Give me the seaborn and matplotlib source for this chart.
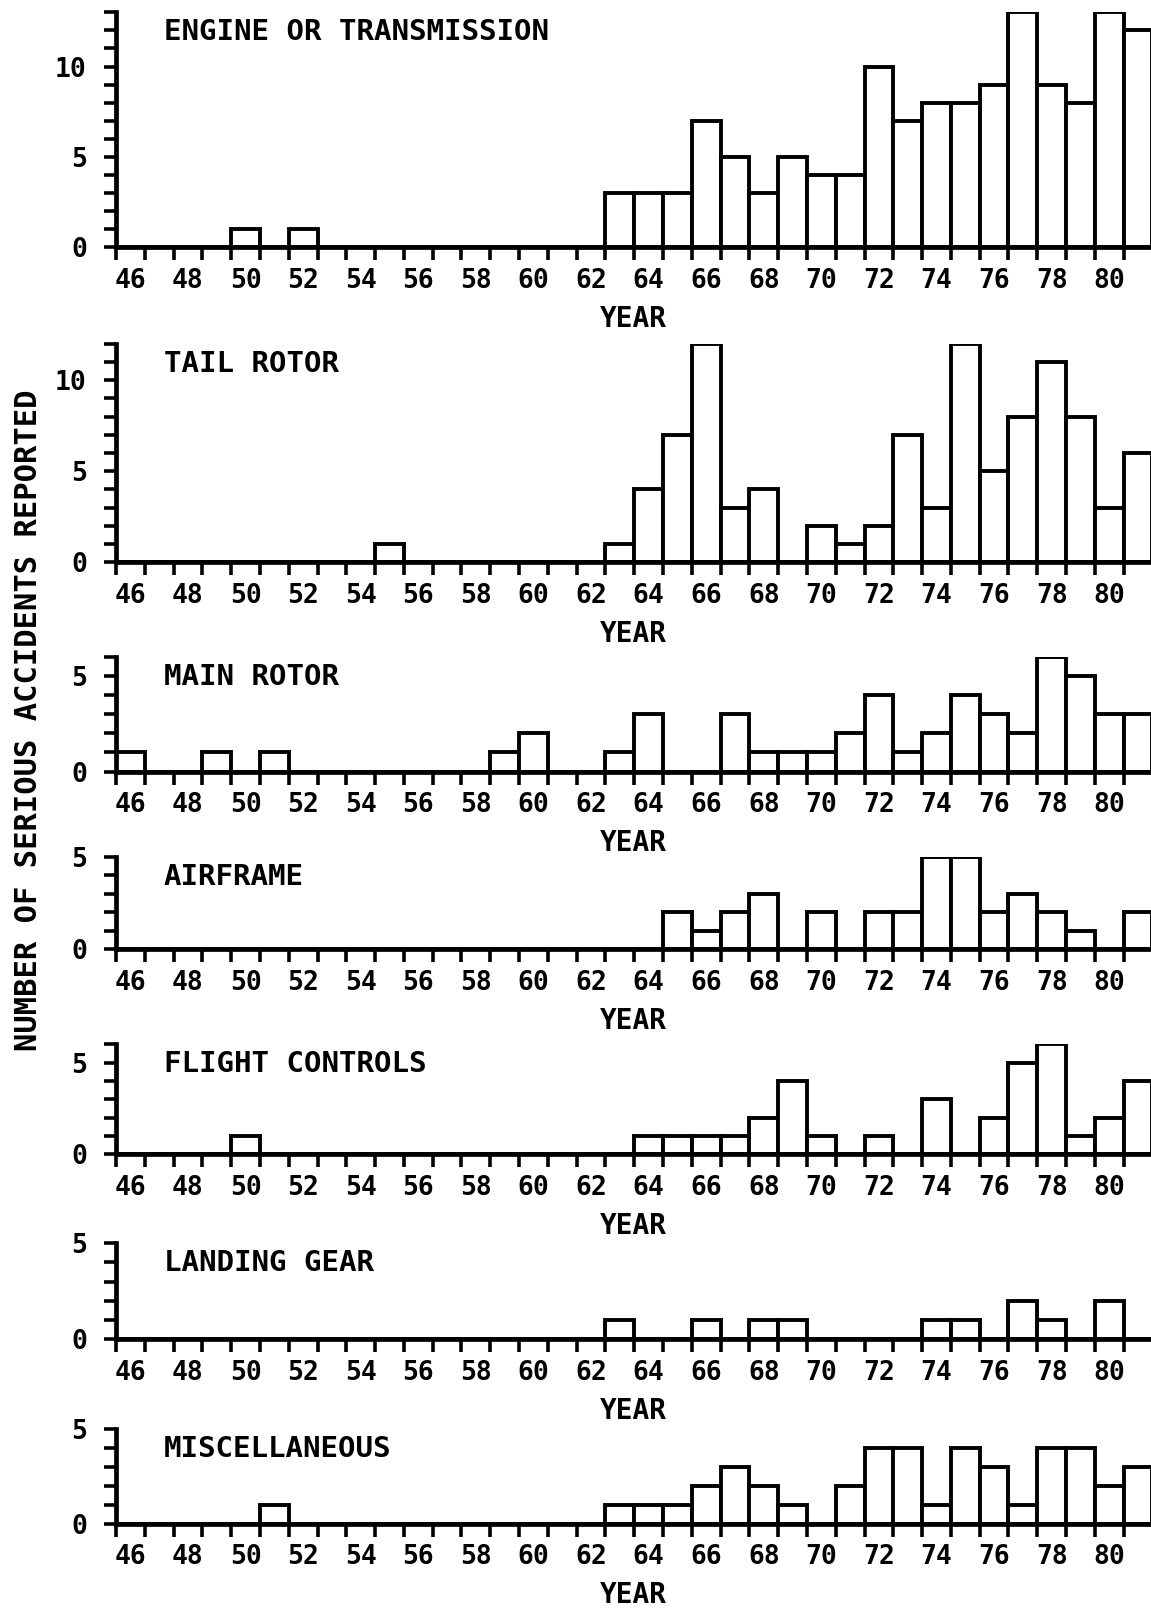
import matplotlib
matplotlib.use("Agg")
import matplotlib.pyplot as plt
import seaborn as sns
import pandas as pd
import numpy as np
from matplotlib.ticker import MultipleLocator, FixedLocator

# ---------------- data ----------------
years = list(range(46, 82))

engine_transmission = [0, 0, 0, 0, 1, 0, 1, 0, 0, 0, 0, 0, 0, 0, 0, 0, 0,
                       3, 3, 3, 7, 5, 3, 5, 4, 4, 10, 7, 8, 8, 9, 13, 9, 8, 13, 12]
tail_rotor = [0, 0, 0, 0, 0, 0, 0, 0, 0, 1, 0, 0, 0, 0, 0, 0, 0,
              1, 4, 7, 12, 3, 4, 0, 2, 1, 2, 7, 3, 12, 5, 8, 11, 8, 3, 6]
main_rotor = [1, 0, 0, 1, 0, 1, 0, 0, 0, 0, 0, 0, 0, 1, 2, 0, 0,
              1, 3, 0, 0, 3, 1, 1, 1, 2, 4, 1, 2, 4, 3, 2, 6, 5, 3, 3]
airframe = [0, 0, 0, 0, 0, 0, 0, 0, 0, 0, 0, 0, 0, 0, 0, 0, 0,
            0, 0, 2, 1, 2, 3, 0, 2, 0, 2, 2, 5, 5, 2, 3, 2, 1, 0, 2]
flight_controls = [0, 0, 0, 0, 1, 0, 0, 0, 0, 0, 0, 0, 0, 0, 0, 0, 0,
                   0, 1, 1, 1, 1, 2, 4, 1, 0, 1, 0, 3, 0, 2, 5, 6, 1, 2, 4]
landing_gear = [0, 0, 0, 0, 0, 0, 0, 0, 0, 0, 0, 0, 0, 0, 0, 0, 0,
                1, 0, 0, 1, 0, 1, 1, 0, 0, 0, 0, 1, 1, 0, 2, 1, 0, 2, 0]
miscellaneous = [0, 0, 0, 0, 0, 1, 0, 0, 0, 0, 0, 0, 0, 0, 0, 0, 0,
                 1, 1, 1, 2, 3, 2, 1, 0, 2, 4, 4, 1, 4, 3, 1, 4, 4, 2, 3]

panel_titles = ["ENGINE OR TRANSMISSION", "TAIL ROTOR", "MAIN ROTOR", "AIRFRAME",
                "FLIGHT CONTROLS", "LANDING GEAR", "MISCELLANEOUS"]
panel_values = [engine_transmission, tail_rotor, main_rotor, airframe,
                flight_controls, landing_gear, miscellaneous]
panel_ymax = [13, 12, 6, 5, 6, 5, 5]
xtick_years = list(range(46, 81, 2))
x_label = "YEAR"
y_label = "NUMBER OF SERIOUS ACCIDENTS REPORTED"

# ---------------- layout (pixels in a 1151 x 1609 canvas) ----------------
W, H = 1151, 1609
tops = [12.3, 343.7, 656.6, 856.6, 1044.4, 1243.4, 1429.1]
bases = [247.2, 562.2, 771.5, 949.0, 1154.1, 1338.8, 1523.5]
left_px = 116

sns.set_theme(style="white")
FONT = ["DejaVu Sans Mono", "DejaVu Sans"]
plt.rcParams["font.family"] = FONT
plt.rcParams["font.weight"] = "bold"

fig = plt.figure(figsize=(W / 100, H / 100), dpi=100)
fig.patch.set_facecolor("white")

LW = 2.8
for i, (title, vals, ymax) in enumerate(zip(panel_titles, panel_values, panel_ymax)):
    b = 1 - bases[i] / H
    h = (bases[i] - tops[i]) / H
    ax = fig.add_axes([left_px / W, b, (W - left_px) / W, h])
    ax.set_facecolor("white")
    df = pd.DataFrame({"year": years, "count": vals})
    sns.barplot(data=df, x="year", y="count", native_scale=True, width=1,
                color="white", saturation=1, edgecolor="black", linewidth=LW,
                errorbar=None, ax=ax, zorder=2)
    ax.set_xlim(45.5, 81.45)
    ax.set_ylim(0, ymax)
    for s in ["top", "right"]:
        ax.spines[s].set_visible(False)
    for s in ["left", "bottom"]:
        ax.spines[s].set_linewidth(3.4)
        ax.spines[s].set_color("black")
        ax.spines[s].set_zorder(3)
    # x ticks: boundaries as tick marks, even years as labels
    ax.xaxis.set_major_locator(FixedLocator(xtick_years))
    ax.set_xticklabels([str(y) for y in xtick_years])
    ax.xaxis.set_minor_locator(FixedLocator(np.arange(45.5, 82, 1.0)))
    ax.tick_params(axis="x", which="major", length=0, pad=15, labelsize=19,
                   labelcolor="black")
    ax.tick_params(axis="x", which="minor", length=9, width=2.6, color="black",
                   direction="out", bottom=True)
    # y ticks
    ax.yaxis.set_major_locator(MultipleLocator(5))
    ax.yaxis.set_minor_locator(MultipleLocator(1))
    ax.tick_params(axis="y", which="both", length=9, width=2.6, color="black",
                   direction="out", left=True)
    ax.tick_params(axis="y", which="major", pad=12, labelsize=19, labelcolor="black")
    ax.set_xlabel(x_label, fontsize=20, fontweight="bold", labelpad=8, color="black")
    ax.set_ylabel("")
    ax.grid(False)
    ax.annotate(title, xy=(0.046, 1.0), xycoords="axes fraction",
                xytext=(0, -20), textcoords="offset pixels",
                ha="left", va="center", fontsize=21, fontweight="bold", color="black")

fig.text(29 / W, 1 - 720 / H, y_label, rotation=90, ha="center", va="center",
         fontsize=22, fontweight="bold", color="black")

fig.savefig("out.png", dpi=100, facecolor="white")
